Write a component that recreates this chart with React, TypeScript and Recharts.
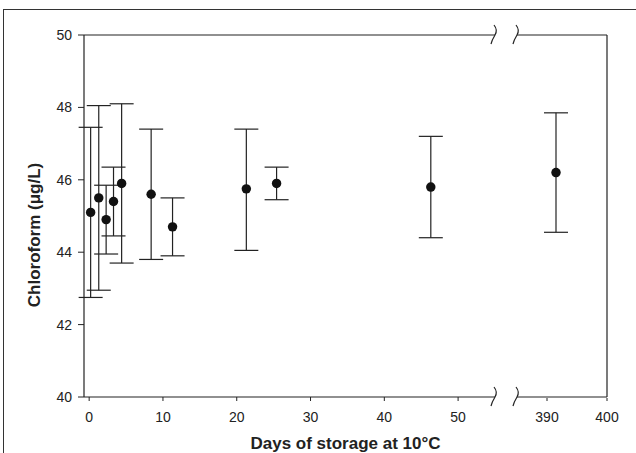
import React from "react";
import {
  ScatterChart,
  Scatter,
  XAxis,
  YAxis,
  ZAxis,
  ErrorBar,
  ReferenceLine,
  ReferenceDot,
} from "recharts";

// early storage days (left part of the broken axis)
const days = [0.2, 1.3, 2.3, 3.3, 4.4, 8.4, 11.3, 21.3, 25.4, 46.3];
const means = [45.1, 45.5, 44.9, 45.4, 45.9, 45.6, 44.7, 45.75, 45.9, 45.8];
const upper = [47.45, 48.05, 45.85, 46.35, 48.1, 47.4, 45.5, 47.4, 46.35, 47.2];
const lower = [42.75, 42.95, 43.95, 44.45, 43.7, 43.8, 43.9, 44.05, 45.45, 44.4];

// late storage day (right part after the break)
const lateDays = [391.5];
const lateMeans = [46.2];
const lateUpper = [47.85];
const lateLower = [44.55];

const leftTicks = [0, 10, 20, 30, 40, 50];
const rightTicks = [390, 400];
const yTicks = [40, 42, 44, 46, 48, 50];

const build = (xs: number[], m: number[], hi: number[], lo: number[]) =>
  xs.map((x, i) => ({ day: x, conc: m[i], err: [m[i] - lo[i], hi[i] - m[i]] }));

const early = build(days, means, upper, lower);
const late = build(lateDays, lateMeans, lateUpper, lateLower);

const ink = "#222";
const font = "'Liberation Sans', Arial, sans-serif";

const BreakMark = (props: any) => {
  const { cx, cy } = props;
  if (cx == null || cy == null) return null;
  return (
    <path
      d={`M ${cx - 1} ${cy - 10} Q ${cx + 3} ${cy - 5} ${cx} ${cy} Q ${cx - 3} ${cy + 5} ${cx - 4} ${cy + 9}`}
      fill="none"
      stroke={ink}
      strokeWidth={1.2}
    />
  );
};

const tickStyle = { fill: ink, fontSize: 14, fontFamily: font };

export default function App() {
  return (
    <div style={{ position: "relative", width: 636, height: 453, overflow: "hidden", background: "#fff" }}>
      <style>{`body{margin:0}`}</style>
      <div
        style={{
          position: "absolute",
          left: 3,
          top: 9,
          width: 700,
          height: 500,
          borderTop: "1.5px solid #333",
          borderLeft: "1.5px solid #333",
        }}
      />
      <div style={{ position: "absolute", left: 0, top: 0 }}>
        <ScatterChart width={636} height={453} margin={{ top: 35, right: 29, bottom: 0, left: 0 }}>
          <XAxis
            xAxisId="a"
            type="number"
            dataKey="day"
            domain={[-0.7, 55]}
            ticks={leftTicks}
            allowDataOverflow
            padding={{ left: 0, right: 112 }}
            height={1}
            axisLine={false}
            tickLine={{ stroke: ink }}
            tickSize={4}
            tickMargin={11}
            tick={tickStyle}
          />
          <XAxis
            xAxisId="b"
            type="number"
            dataKey="day"
            domain={[385, 400]}
            ticks={rightTicks}
            allowDataOverflow
            padding={{ left: 433, right: 0 }}
            height={55}
            axisLine={false}
            tickLine={{ stroke: ink }}
            tickSize={3}
            tickMargin={11}
            tick={tickStyle}
            label={{
              value: "Days of storage at 10°C",
              position: "insideBottom",
              offset: 4,
              style: { fill: ink, fontSize: 17, fontWeight: "bold", fontFamily: font },
            }}
          />
          <YAxis
            type="number"
            dataKey="conc"
            domain={[40, 50]}
            ticks={yTicks}
            width={84}
            axisLine={{ stroke: ink, strokeWidth: 1.2 }}
            tickLine={{ stroke: ink }}
            tickSize={6}
            tickMargin={6}
            tick={tickStyle}
            label={{
              value: "Chloroform (μg/L)",
              angle: -90,
              position: "center",
              dx: -8,
              dy: 19,
              style: { fill: ink, fontSize: 17, fontWeight: "bold", fontFamily: font, textAnchor: "middle" },
            }}
          />
          <ZAxis range={[70, 70]} />

          <ReferenceLine xAxisId="a" segment={[{ x: -0.7, y: 40 }, { x: 55, y: 40 }]} stroke={ink} strokeWidth={1.2} />
          <ReferenceLine xAxisId="a" segment={[{ x: -0.7, y: 50 }, { x: 55, y: 50 }]} stroke={ink} strokeWidth={1.2} />
          <ReferenceLine xAxisId="b" segment={[{ x: 385, y: 40 }, { x: 400, y: 40 }]} stroke={ink} strokeWidth={1.2} />
          <ReferenceLine xAxisId="b" segment={[{ x: 385, y: 50 }, { x: 400, y: 50 }]} stroke={ink} strokeWidth={1.2} />
          <ReferenceLine xAxisId="b" x={400} stroke={ink} strokeWidth={1.2} />

          <ReferenceDot xAxisId="a" x={55} y={40} shape={BreakMark} ifOverflow="visible" />
          <ReferenceDot xAxisId="a" x={55} y={50} shape={BreakMark} ifOverflow="visible" />
          <ReferenceDot xAxisId="b" x={385} y={40} shape={BreakMark} ifOverflow="visible" />
          <ReferenceDot xAxisId="b" x={385} y={50} shape={BreakMark} ifOverflow="visible" />

          <Scatter xAxisId="a" data={early} dataKey="conc" fill="#111" isAnimationActive={false}>
            <ErrorBar dataKey="err" direction="y" width={12} stroke={ink} strokeWidth={1.2} />
          </Scatter>
          <Scatter xAxisId="b" data={late} dataKey="conc" fill="#111" isAnimationActive={false}>
            <ErrorBar dataKey="err" direction="y" width={12} stroke={ink} strokeWidth={1.2} />
          </Scatter>
        </ScatterChart>
      </div>
    </div>
  );
}
